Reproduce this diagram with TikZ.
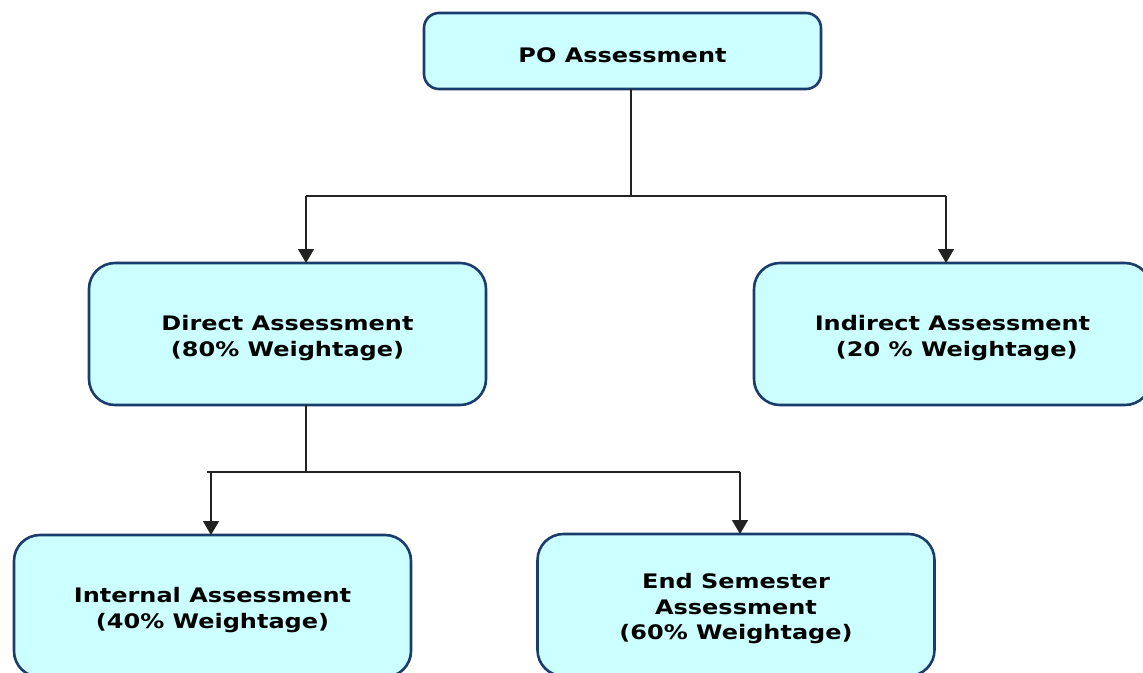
\documentclass[tikz,border=0pt]{standalone}
\usepackage{fontspec}
\setmainfont{DejaVu Sans}[FakeStretch=1.2]
\usetikzlibrary{arrows.meta}
\definecolor{boxfill}{HTML}{CCFFFF}
\definecolor{boxedge}{HTML}{1B3D6E}
\definecolor{wire}{HTML}{222222}
% strut that lowers the text block slightly inside its box
\newcommand{\topstrut}{\rule{0pt}{23pt}}
\begin{document}
\begin{tikzpicture}[x=1pt,y=-1pt,
  box/.style={draw=boxedge, fill=boxfill, line width=2.6pt, rounded corners=26pt,
    minimum width=397pt, outer sep=0pt, align=center, inner sep=4pt,
    font=\bfseries\fontsize{20}{25.5}\selectfont},
  line/.style={draw=wire, line width=1.4pt},
  arr/.style={line, -{Triangle[width=16pt,length=14pt]}}]
\useasboundingbox (0,0) rectangle (1143,672);
\clip (0,0) rectangle (1143,672);
\fill[white] (0,0) rectangle (1143,672);

% boxes
\node[box, rounded corners=15pt, minimum height=76pt] (po) at (622.5,51) {\topstrut PO Assessment};
\node[box, minimum height=142pt] (direct) at (287.5,334) {\topstrut Direct Assessment\\(80\% Weightage)};
\node[box, minimum height=142pt] (indirect) at (952.5,334) {\topstrut Indirect Assessment\\\ (20 \% Weightage)};
\node[box, minimum height=142pt] (internal) at (212.5,606) {\topstrut Internal Assessment\\(40\% Weightage)};
\node[box, minimum height=142pt] (endsem) at (736,605) {\topstrut End Semester\\Assessment\\(60\% Weightage)};

% first level split
\coordinate (hubA) at (631,196);
\coordinate (legA1) at (306,196);
\coordinate (legA2) at (946,196);
\draw[line] (po.south -| hubA) -- (hubA);
\draw[line] (legA1) -- (legA2);
\draw[arr] (legA1) -- (direct.north -| legA1);
\draw[arr] (legA2) -- (indirect.north -| legA2);

% second level split
\coordinate (hubB) at (306,472);
\coordinate (legB1) at (211,472);
\coordinate (legB2) at (740,472);
\draw[line] (direct.south -| hubB) -- ([yshift=1pt]hubB);
\draw[line] ([xshift=-4pt]legB1) -- (legB2);
\draw[arr] (legB1) -- (internal.north -| legB1);
\draw[arr] (legB2) -- (endsem.north -| legB2);
\end{tikzpicture}
\end{document}
